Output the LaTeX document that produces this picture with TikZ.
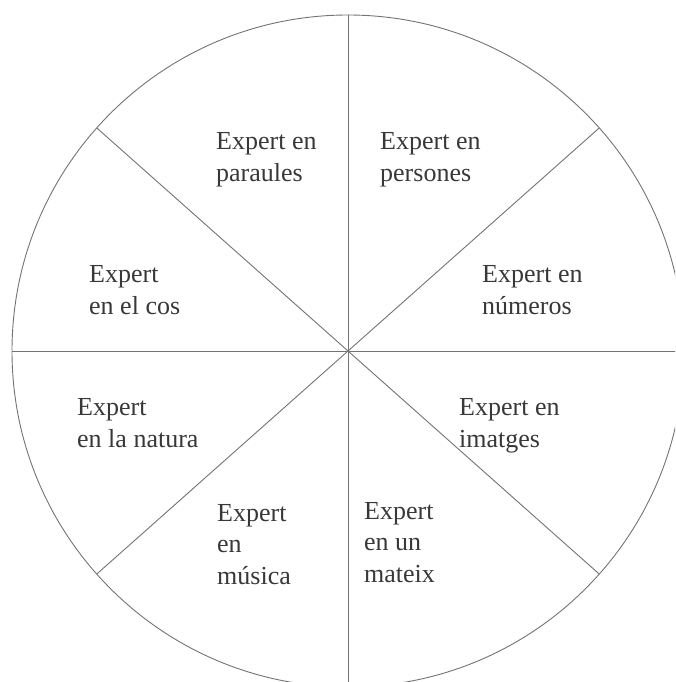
\documentclass[tikz,border=0pt]{standalone}
\usepackage{fontspec}
\setmainfont{Liberation Serif}
\begin{document}
\begin{tikzpicture}[x=1pt,y=-1pt,
  divider/.style={draw=black!55,line width=0.9pt},
  label/.style={anchor=base west,inner sep=0pt,align=left,text=black!78,
    font=\fontsize{26}{31.5}\selectfont}]
  \path[use as bounding box] (0,0) rectangle (675,682);
  \clip (0,0) rectangle (675,682);
  \coordinate (C) at (348,351);
  % outer circle
  \draw[divider] (C) circle[radius=336];
  % axes
  \draw[divider] ([shift={(0,-336)}]C) -- ([shift={(0,336)}]C);
  \draw[divider] ([shift={(-336,0)}]C) -- ([shift={(336,0)}]C);
  % diagonal spokes
  \foreach \a in {41.6,138.4,221.6,318.4}
    \draw[divider] (C) -- ([shift={(\a:336)}]C);
  % sector labels (anchored at the baseline of the last line)
  \node[label] (paraules) at (216,181) {Expert en\\paraules};
  \node[label] (persones) at (380,181) {Expert en\\persones};
  \node[label] (numeros)  at (482,314) {Expert en\\números};
  \node[label] (cos)      at (89,314)  {Expert\\en el cos};
  \node[label] (natura)   at (77,447)  {Expert\\en la natura};
  \node[label] (imatges)  at (459,447) {Expert en\\imatges};
  \node[label] (musica)   at (217,584) {Expert\\en\\música};
  \node[label] (mateix)   at (364,582) {Expert\\en un\\mateix};
\end{tikzpicture}
\end{document}
